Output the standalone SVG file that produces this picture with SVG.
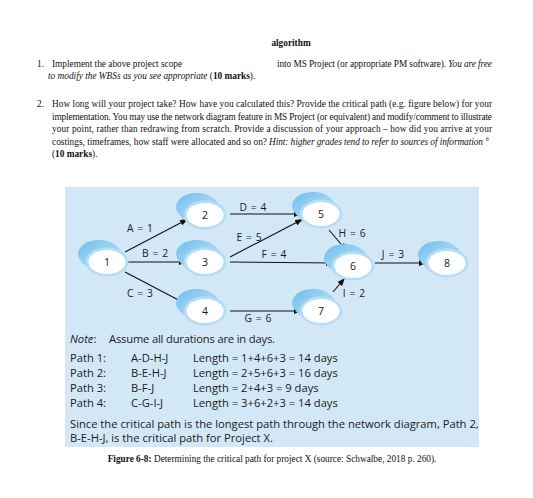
<svg xmlns="http://www.w3.org/2000/svg" xmlns:xlink="http://www.w3.org/1999/xlink" width="533" height="498" viewBox="0 0 533 498">
<defs>
<style>
.s{font-family:"Liberation Serif","Times New Roman",serif;font-size:9.3px;fill:#111}
.i{font-style:italic}
.b{font-weight:bold}
.d{font-family:"Open Sans","Liberation Sans",sans-serif;font-size:11.2px;fill:#1a1a1a}
.l{font-family:"Open Sans","Liberation Sans",sans-serif;font-size:10.3px;fill:#1a1a1a;text-anchor:middle;word-spacing:1.2px}
.n{font-family:"Open Sans","Liberation Sans",sans-serif;font-size:10.5px;fill:#1a1a1a;text-anchor:middle}
.e{stroke:#111;stroke-width:1.1;fill:none;marker-end:url(#ah)}
</style>
<linearGradient id="cyl" x1="0" y1="0" x2="1" y2="1">
<stop offset="0" stop-color="#6cbdec"/>
<stop offset="0.6" stop-color="#a6d6f3"/>
<stop offset="1" stop-color="#c9e7f8"/>
</linearGradient>
<marker id="ah" markerUnits="userSpaceOnUse" markerWidth="8" markerHeight="6" refX="8" refY="3" orient="auto">
<path d="M0,0 L8,3 L0,6 z" fill="#111"/>
</marker>
<g id="node">
<ellipse cx="-8" cy="-8" rx="21" ry="14" fill="url(#cyl)"/>
<polygon points="9.5,-15.8 17.5,-7.8 -17.5,7.8 -25.5,-0.2" fill="url(#cyl)"/>
<ellipse cx="0" cy="0" rx="21.5" ry="14.5" fill="#b4def6"/>
<ellipse cx="0" cy="0" rx="18.5" ry="12" fill="#fff"/>
</g>
</defs>
<rect width="533" height="498" fill="#fff"/>

<g id="header">
<text class="s b" x="291" y="46" text-anchor="middle">algorithm</text>
<text class="s" x="37" y="67">1.</text>
<text class="s" x="52" y="67">Implement the above project scope</text>
<text class="s" x="277" y="67" textLength="215" lengthAdjust="spacing">into MS Project (or appropriate PM software). <tspan class="i">You are free</tspan></text>
<text class="s" x="48" y="79"><tspan class="i">to modify the WBSs as you see appropriate</tspan> (<tspan class="b">10 marks</tspan>).</text>
<text class="s" x="37" y="107">2.</text>
<text class="s" x="52" y="107" textLength="440" lengthAdjust="spacing">How long will your project take? How have you calculated this? Provide the critical path (e.g. figure below) for your</text>
<text class="s" x="52" y="120" textLength="440" lengthAdjust="spacing">implementation. You may use the network diagram feature in MS Project (or equivalent) and modify/comment to illustrate</text>
<text class="s" x="52" y="132" textLength="440" lengthAdjust="spacing">your point, rather than redrawing from scratch. Provide a discussion of your approach – how did you arrive at your</text>
<text class="s" x="52" y="145" textLength="215" lengthAdjust="spacing">costings, timeframes, how staff were allocated and so on?</text>
<text class="s i" x="269" y="145" textLength="214" lengthAdjust="spacing">Hint: higher grades tend to refer to sources of information</text>
<text class="s" x="486" y="141" style="font-size:5.5px">6</text>
<text class="s" x="52" y="157">(<tspan class="b">10 marks</tspan>).</text>
</g>

<rect id="panel" x="65" y="187" width="414" height="260" fill="#d3e8f7"/>

<g id="connectors">
<path class="e" d="M125,252 L188,219"/>
<path class="e" d="M128,262 L187,262"/>
<path class="e" d="M125,272 L188,305"/>
<path class="e" d="M230,214 L302,214"/>
<path class="e" d="M230,257 L303,219"/>
<path class="e" d="M230,262 L334,263"/>
<path class="e" d="M230,311 L302,311"/>
<path class="e" d="M329,230 L347,251"/>
<path class="e" d="M333,292 L345,278"/>
<path class="e" d="M375,263 L427,263"/>
<text class="l" x="140" y="232">A = 1</text>
<text class="l" x="155" y="257">B = 2</text>
<text class="l" x="140" y="297">C = 3</text>
<text class="l" x="253" y="211">D = 4</text>
<text class="l" x="249" y="241">E = 5</text>
<text class="l" x="274" y="258">F = 4</text>
<text class="l" x="258" y="322">G = 6</text>
<text class="l" x="352" y="237">H = 6</text>
<text class="l" x="354" y="297">I = 2</text>
<text class="l" x="393" y="258">J = 3</text>
</g>

<g id="n1"><use xlink:href="#node" x="107" y="262"/><text class="n" x="107" y="266">1</text></g>
<g id="n2"><use xlink:href="#node" x="205" y="215"/><text class="n" x="205" y="219">2</text></g>
<g id="n3"><use xlink:href="#node" x="205" y="262"/><text class="n" x="205" y="266">3</text></g>
<g id="n4"><use xlink:href="#node" x="205" y="311"/><text class="n" x="205" y="315">4</text></g>
<g id="n5"><use xlink:href="#node" x="321" y="214"/><text class="n" x="321" y="218">5</text></g>
<g id="n6"><use xlink:href="#node" x="353" y="266"/><text class="n" x="353" y="270">6</text></g>
<g id="n7"><use xlink:href="#node" x="321" y="311"/><text class="n" x="321" y="315">7</text></g>
<g id="n8"><use xlink:href="#node" x="447" y="263"/><text class="n" x="447" y="267">8</text></g>

<g id="notes">
<text class="d" x="70" y="343"><tspan font-style="italic">Note</tspan>:</text>
<text class="d" x="109" y="343" textLength="166" lengthAdjust="spacing">Assume all durations are in days.</text>
<text class="d" x="70" y="362">Path 1:</text><text class="d" x="131" y="362">A-D-H-J</text><text class="d" x="193" y="362">Length = 1+4+6+3 = 14 days</text>
<text class="d" x="70" y="377">Path 2:</text><text class="d" x="131" y="377">B-E-H-J</text><text class="d" x="193" y="377">Length = 2+5+6+3 = 16 days</text>
<text class="d" x="70" y="392">Path 3:</text><text class="d" x="131" y="392">B-F-J</text><text class="d" x="193" y="392">Length = 2+4+3 = 9 days</text>
<text class="d" x="70" y="407">Path 4:</text><text class="d" x="131" y="407">C-G-I-J</text><text class="d" x="193" y="407">Length = 3+6+2+3 = 14 days</text>
<text class="d" x="70" y="428">Since the critical path is the longest path through the network diagram, Path 2,</text>
<text class="d" x="70" y="442">B-E-H-J, is the critical path for Project X.</text>
</g>

<text id="caption" class="s" x="272" y="462" text-anchor="middle"><tspan class="b">Figure 6-8:</tspan> Determining the critical path for project X (source: Schwalbe, 2018 p. 260).</text>
</svg>
